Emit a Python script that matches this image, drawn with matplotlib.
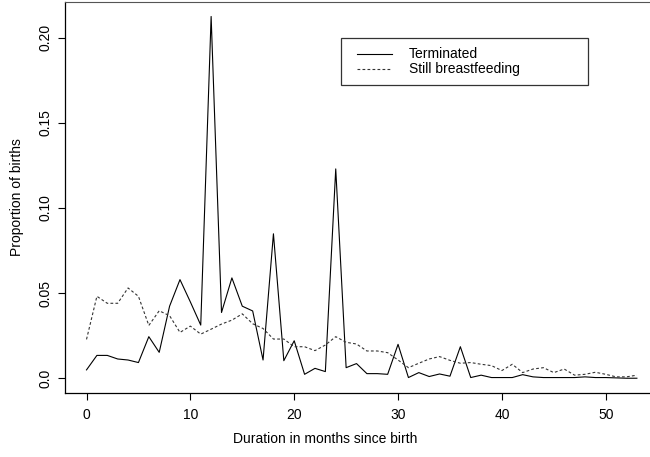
import numpy as np
import matplotlib
matplotlib.use("Agg")
import matplotlib.pyplot as plt
from matplotlib.lines import Line2D
from matplotlib.patches import Rectangle

plt.rcParams['font.family'] = ['Liberation Sans', 'DejaVu Sans']

months = list(range(54))
terminated = [0.0049, 0.0134, 0.0134, 0.0113, 0.0107, 0.0092, 0.0244, 0.0152, 0.0423, 0.0579,
              0.0448, 0.0312, 0.2124, 0.0386, 0.0589, 0.0423, 0.0395, 0.0107, 0.0848, 0.0103,
              0.0220, 0.0023, 0.0058, 0.0039, 0.1229, 0.0062, 0.0086, 0.0027, 0.0027, 0.0023,
              0.0199, 0.0004, 0.0033, 0.0010, 0.0025, 0.0012, 0.0185, 0.0004, 0.0018, 0.0004,
              0.0004, 0.0004, 0.0021, 0.0008, 0.0004, 0.0004, 0.0004, 0.0004, 0.0008, 0.0004,
              0.0004, 0.0002, 0.0, 0.0]
still_bf = [0.0228, 0.0481, 0.0440, 0.0440, 0.0530, 0.0481, 0.0310, 0.0396, 0.0367, 0.0269,
            0.0306, 0.0259, 0.0288, 0.0318, 0.0341, 0.0378, 0.0320, 0.0292, 0.0230, 0.0230,
            0.0185, 0.0185, 0.0162, 0.0195, 0.0244, 0.0211, 0.0201, 0.0160, 0.0160, 0.0150,
            0.0107, 0.0062, 0.0088, 0.0113, 0.0127, 0.0105, 0.0088, 0.0092, 0.0082, 0.0074,
            0.0045, 0.0082, 0.0033, 0.0054, 0.0062, 0.0033, 0.0054, 0.0018, 0.0023, 0.0035,
            0.0023, 0.0008, 0.0008, 0.0018]
labels = ['Terminated', 'Still breastfeeding']

W, H = 650, 457
fig = plt.figure(figsize=(6.5, 4.57), dpi=100)
ax = fig.add_axes([64.5 / W, (H - 392.7) / H, 594.4 / W, 390.7 / H])

ax.plot(months, terminated, color='black', lw=0.8)
ax.plot(months, still_bf, color='#333333', lw=0.8, linestyle=(0, (2.5, 2)))
ax.margins(x=0.04, y=0.04)

ax.set_xticks([0, 10, 20, 30, 40, 50])
ax.set_yticks([0.0, 0.05, 0.10, 0.15, 0.20])
ax.set_yticklabels(['0.0', '0.05', '0.10', '0.15', '0.20'], rotation=90, va='center')
ax.tick_params(axis='both', length=5, width=0.8, labelsize=10, color='black')
ax.tick_params(axis='x', pad=6)
ax.tick_params(axis='y', pad=3.5)

for s in ['left', 'bottom']:
    ax.spines[s].set_linewidth(0.9)
ax.spines['top'].set_linestyle((0, (2, 1)))
ax.spines['top'].set_color('#555555')
ax.spines['right'].set_linewidth(0.9)

ax.set_xlabel('Duration in months since birth', fontsize=10)
ax.set_ylabel('Proportion of births', fontsize=10)
ax.xaxis.set_label_coords((325 - 64.5) / 594.4, (392.7 - 432) / 390.7)
ax.yaxis.set_label_coords((24 - 64.5) / 594.4, 0.5)

# legend drawn in figure pixels, R style box
tf = fig.transFigure
fig.add_artist(Rectangle((340.7 / W, (H - 85) / H), 247.6 / W, 47.3 / H, transform=tf,
                         fill=False, edgecolor='#333333', lw=0.9))
styles = [dict(color='black', lw=0.8), dict(color='#333333', lw=0.8, linestyle=(0, (2.5, 2)))]
for yy, lab, st in zip([54.3, 69.0], labels, styles):
    fig.add_artist(Line2D([356.7 / W, 391.7 / W], [(H - yy) / H] * 2, transform=tf, **st))
    fig.text(409 / W, (H - yy) / H, lab, fontsize=10, va='center', ha='left')

fig.savefig('out.png', dpi=100)
